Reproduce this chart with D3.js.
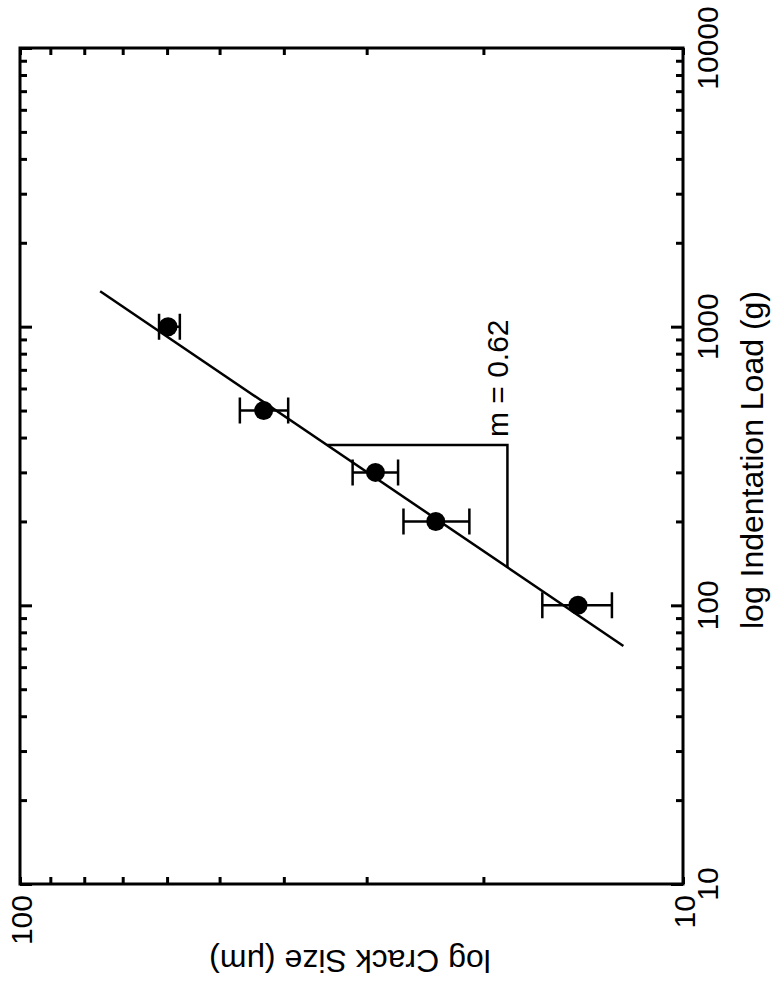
<!DOCTYPE html>
<html>
<head>
<meta charset="utf-8">
<script src="https://cdn.jsdelivr.net/npm/d3@7"></script>
<style>
  html, body { margin: 0; padding: 0; background: #fff; }
  svg { display: block; font-family: "Liberation Sans", Arial, Helvetica, sans-serif; }
</style>
</head>
<body>
<div id="chart"></div>
<script>
// values (figure is printed turned 90 degrees)
const loadMajor = [10, 100, 1000, 10000];
const loadMinor = [20, 30, 40, 50, 60, 70, 80, 90, 200, 300, 400, 500, 600, 700, 800, 900,
                   2000, 3000, 4000, 5000, 6000, 7000, 8000, 9000];
const crackMajor = [100, 10];
const crackMinor = [20, 30, 40, 50, 60, 70, 80, 90];

const pointLoad  = [100, 200, 300, 500, 1000];
const pointCrack = [14.4, 23.6, 29.1, 42.9, 59.8];
const crackLow   = [12.8, 21.0, 26.9, 39.4, 57.4];
const crackHigh  = [16.3, 26.4, 31.5, 46.6, 61.7];

const fitLoad  = [71.5, 1340];
const fitCrack = [12.3, 75.7];

const slopeLoad  = [376, 376, 137];
const slopeCrack = [34.4, 18.4, 18.4];
const slopeText = 'm = 0.62';

(function () {
  'use strict';

  const width = 771, height = 983;
  const frame = { left: 20, right: 683, top: 48, bottom: 884 };

  const svg = d3.select('#chart').append('svg')
    .attr('width', width)
    .attr('height', height);

  // load runs bottom -> top, crack size runs right -> left
  const y = d3.scaleLog().domain([10, 10000]).range([frame.bottom, frame.top]);
  const x = d3.scaleLog().domain([100, 10]).range([frame.left, frame.right]);

  const allLoad = loadMajor.concat(loadMinor);
  const allCrack = crackMajor.concat(crackMinor);
  const isMajorLoad = d => loadMajor.includes(d);
  const tickLen = major => major ? 12 : 7;

  // ticks on all four sides, pointing inward
  function tickAxis(axis, pos, values, majorFn, sign, horizontal) {
    const g = svg.append('g')
      .attr('transform', horizontal ? `translate(0,${pos})` : `translate(${pos},0)`)
      .call(axis.tickValues(values).tickFormat('').tickSizeOuter(0));
    g.select('.domain').remove();
    g.selectAll('.tick line')
      .attr('stroke', '#000')
      .attr('stroke-width', 3)
      .attr(horizontal ? 'y2' : 'x2', d => sign * tickLen(majorFn(d)))
      .attr(horizontal ? 'x2' : 'y2', 0);
    return g;
  }

  tickAxis(d3.axisRight(y), frame.left, allLoad, isMajorLoad, 1, false);
  tickAxis(d3.axisLeft(y), frame.right, allLoad, isMajorLoad, -1, false);
  tickAxis(d3.axisBottom(x), frame.top, allCrack, () => false, 1, true);
  tickAxis(d3.axisTop(x), frame.bottom, allCrack, () => false, -1, true);

  svg.append('rect')
    .attr('x', frame.left)
    .attr('y', frame.top)
    .attr('width', frame.right - frame.left)
    .attr('height', frame.bottom - frame.top)
    .attr('fill', 'none')
    .attr('stroke', '#000')
    .attr('stroke-width', 3);

  // tick labels (rotated like the rest of the figure)
  svg.append('g')
    .selectAll('text')
    .data(loadMajor)
    .join('text')
    .attr('transform', d => `translate(${frame.right + 35},${y(d)}) rotate(-90)`)
    .attr('text-anchor', 'middle')
    .attr('font-size', 30)
    .text(d => d);

  svg.append('g')
    .selectAll('text')
    .data(crackMajor)
    .join('text')
    .attr('transform', d => `translate(${x(d) + 12},${frame.bottom + 11}) rotate(-90)`)
    .attr('text-anchor', 'end')
    .attr('font-size', 30)
    .text(d => d);

  // axis titles
  svg.append('text')
    .attr('transform', `translate(763,460) rotate(-90)`)
    .attr('text-anchor', 'middle')
    .attr('font-size', 32)
    .text('log Indentation Load (g)');

  svg.append('text')
    .attr('transform', `translate(350,950) rotate(180)`)
    .attr('text-anchor', 'middle')
    .attr('font-size', 32)
    .text('log Crack Size (\u03bcm)');

  // fit line
  const fit = fitLoad.map((l, i) => [x(fitCrack[i]), y(l)]);
  svg.append('path')
    .attr('d', d3.line()(fit))
    .attr('fill', 'none')
    .attr('stroke', '#000')
    .attr('stroke-width', 2.5);

  // slope triangle
  const tri = slopeLoad.map((l, i) => [x(slopeCrack[i]), y(l)]);
  svg.append('path')
    .attr('d', d3.line()(tri))
    .attr('fill', 'none')
    .attr('stroke', '#000')
    .attr('stroke-width', 2.5);

  svg.append('text')
    .attr('transform', `translate(${x(slopeCrack[1]) + 1},${y(slopeLoad[0]) - 8}) rotate(-90)`)
    .attr('text-anchor', 'start')
    .attr('font-size', 30)
    .text(slopeText);

  // error bars + points
  const pts = pointLoad.map((l, i) => ({ load: l, crack: pointCrack[i], lo: crackLow[i], hi: crackHigh[i] }));
  const cap = 13;
  const bars = svg.append('g')
    .attr('stroke', '#000')
    .attr('stroke-width', 2.5)
    .attr('fill', 'none');

  bars.selectAll('path')
    .data(pts)
    .join('path')
    .attr('d', d => {
      const yy = y(d.load), a = x(d.lo), b = x(d.hi);
      return `M${a},${yy}H${b}M${a},${yy - cap}V${yy + cap}M${b},${yy - cap}V${yy + cap}`;
    });

  svg.append('g')
    .selectAll('circle')
    .data(pts)
    .join('circle')
    .attr('cx', d => x(d.crack))
    .attr('cy', d => y(d.load))
    .attr('r', 9.5)
    .attr('fill', '#000');
})();
</script>
</body>
</html>
